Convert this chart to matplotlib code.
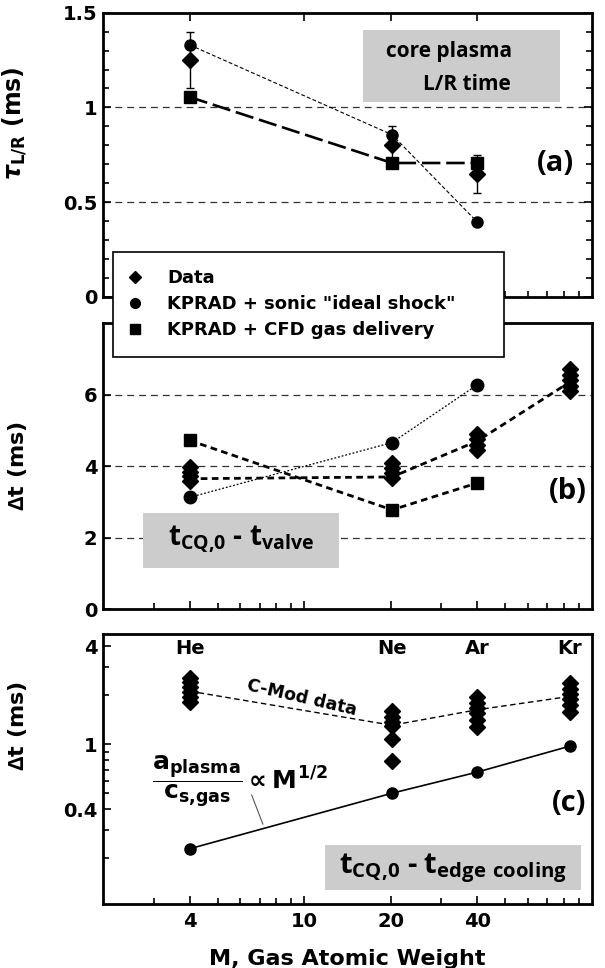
import numpy as np
import matplotlib
matplotlib.use('Agg')
import matplotlib.pyplot as plt
from matplotlib.lines import Line2D
from matplotlib.patches import Rectangle

# atomic weights of the injected gases
gases = ['He', 'Ne', 'Ar', 'Kr']
masses = [4.0, 20.2, 39.9, 83.8]

# (a) core plasma L/R time (ms), He, Ne, Ar
tau_data = [1.25, 0.80, 0.65]
tau_err_lo = [1.10, 0.72, 0.55]
tau_err_hi = [1.40, 0.90, 0.75]
tau_shock = [1.33, 0.856, 0.396]
tau_cfd = [1.055, 0.707, 0.707]

# (b) t_CQ,0 - t_valve (ms)
valve_data = [[3.98, 3.85, 3.72, 3.58],
              [4.08, 3.95, 3.82, 3.68],
              [4.90, 4.75, 4.60, 4.45],
              [6.70, 6.55, 6.40, 6.25, 6.10]]
valve_mean = [3.65, 3.70, 4.70, 6.35]
valve_shock = [3.13, 4.66, 6.27]
valve_cfd = [4.72, 2.78, 3.53]

# (c) t_CQ,0 - t_edge cooling (ms)
edge_data = [[2.55, 2.40, 2.25, 2.10, 1.95, 1.82],
             [1.60, 1.48, 1.38, 1.30, 1.08, 0.79],
             [1.95, 1.80, 1.67, 1.55, 1.42, 1.28],
             [2.37, 2.20, 2.05, 1.90, 1.75, 1.57]]
edge_mean = [2.12, 1.31, 1.63, 1.97]
edge_sonic = [0.229, 0.502, 0.676, 0.976]

plt.rcParams['font.family'] = ['DejaVu Sans']
plt.rcParams['font.weight'] = 'bold'
plt.rcParams['mathtext.fontset'] = 'custom'
plt.rcParams['mathtext.rm'] = 'Open Sans:bold'
plt.rcParams['mathtext.bf'] = 'Open Sans:bold'
plt.rcParams['mathtext.it'] = 'Open Sans:bold'

BOX = '#cccccc'
GRID = dict(color='#333333', lw=0.9, dashes=(5.5, 4), zorder=1)
BOXFONT = dict(family='Open Sans', weight='bold')

fig = plt.figure(figsize=(6.05, 9.68), dpi=100)
axa = fig.add_axes([0.1702, 0.6932, 0.8083, 0.2937])
axb = fig.add_axes([0.1702, 0.3704, 0.8083, 0.2960])
axc = fig.add_axes([0.1702, 0.0661, 0.8083, 0.2789])

minor_x = [3, 5, 6, 7, 8, 9, 30, 50, 60, 70, 80, 90]
for ax in (axa, axb, axc):
    ax.set_xscale('log')
    ax.set_xlim(2, 100)
    ax.set_xticks([4, 10, 20, 40])
    ax.set_xticks(minor_x, minor=True)
    for s in ax.spines.values():
        s.set_linewidth(2)
    ax.tick_params(which='both', direction='in', width=1.2, labelsize=14, pad=4)
    ax.tick_params(which='major', length=6)
    ax.tick_params(which='minor', length=4)
    ax.tick_params(axis='x', top=True)

axa.tick_params(axis='x', labelbottom=False)
axb.tick_params(axis='x', labelbottom=False)
axc.tick_params(axis='x', top=False, pad=6)
axc.set_xticklabels(['4', '10', '20', '40'])

# ---- (a)
axa.set_ylim(0, 1.5)
axa.set_yticks([0, 0.5, 1, 1.5])
axa.set_yticklabels(['0', '0.5', '1', '1.5'])
axa.set_yticks(np.arange(0.1, 1.5, 0.1), minor=True)
axa.tick_params(axis='y', which='both', right=True)
for v in (0.5, 1.0):
    axa.axhline(v, **GRID)
axa.plot(masses[:3], tau_shock, color='k', lw=0.8, dashes=(3.5, 2), zorder=2)
axa.plot(masses[:3], tau_cfd, color='k', lw=1.9, dashes=(7, 2.2), zorder=2)
yerr = [np.array(tau_data) - np.array(tau_err_lo), np.array(tau_err_hi) - np.array(tau_data)]
axa.errorbar(masses[:3], tau_data, yerr=yerr, fmt='none', ecolor='k', elinewidth=1,
             capsize=3, capthick=1, zorder=3)
axa.plot(masses[:3], tau_data, 'D', color='k', ms=8, ls='none', zorder=4)
axa.plot(masses[:3], tau_shock, 'o', color='k', ms=8, ls='none', zorder=4)
axa.plot(masses[:3], tau_cfd, 's', color='k', ms=8, ls='none', zorder=4)
axa.set_ylabel(r'$\tau_{\mathbf{L/R}}$ (ms)', fontsize=17, fontweight='bold',
               math_fontfamily='dejavusans')
axa.yaxis.set_label_coords(-0.151, 0.61)
axa.add_patch(Rectangle((0.532, 0.686), 0.403, 0.253, transform=axa.transAxes,
                        fc=BOX, ec='none', zorder=5))
axa.text(0.708, 0.862, 'core plasma', transform=axa.transAxes, ha='center', va='center',
         fontsize=15, zorder=6, **BOXFONT)
axa.text(0.744, 0.746, 'L/R time', transform=axa.transAxes, ha='center', va='center',
         fontsize=15, zorder=6, **BOXFONT)
axa.text(0.926, 0.471, '(a)', transform=axa.transAxes, ha='center', va='center',
         fontsize=21, **BOXFONT)

# ---- (b)
axb.set_ylim(0, 8)
axb.set_yticks([0, 2, 4, 6])
for v in (2, 4, 6):
    axb.axhline(v, **GRID)
axb.plot(masses[:3], valve_shock, color='k', lw=0.9, dashes=(1.5, 1.5), zorder=2)
axb.plot(masses[:3], valve_cfd, color='k', lw=2, dashes=(2.4, 1.6), zorder=2)
axb.plot(masses, valve_mean, color='k', lw=2, dashes=(2.4, 1.6), zorder=2)
for m, vals in zip(masses, valve_data):
    axb.plot([m] * len(vals), vals, 'D', color='k', ms=8, ls='none', zorder=4)
axb.plot(masses[:3], valve_shock, 'o', color='k', ms=9, ls='none', zorder=4)
axb.plot(masses[:3], valve_cfd, 's', color='k', ms=8, ls='none', zorder=4)
axb.set_ylabel(r'$\Delta$t (ms)', fontsize=16, fontweight='bold')
axb.yaxis.set_label_coords(-0.151, 0.5)
axb.add_patch(Rectangle((0.081, 0.145), 0.402, 0.192, transform=axb.transAxes,
                        fc=BOX, ec='none', zorder=5))
axb.text(0.282, 0.243, r'$\mathrm{t_{CQ{,}0}}$ - $\mathrm{t_{valve}}$', transform=axb.transAxes,
         ha='center', va='center', fontsize=20, zorder=6, **BOXFONT)
axb.text(0.951, 0.41, '(b)', transform=axb.transAxes, ha='center', va='center',
         fontsize=21, **BOXFONT)

# ---- (c)
axc.set_yscale('log')
axc.set_ylim(0.105, 4.75)
axc.set_yticks([0.4, 1, 4])
axc.set_yticklabels(['0.4', '1', '4'])
axc.set_yticks([0.2, 0.3, 0.5, 0.6, 0.7, 0.8, 0.9, 2, 3], minor=True)
axc.yaxis.set_minor_formatter(matplotlib.ticker.NullFormatter())
axc.plot(masses, edge_mean, color='k', lw=1, dashes=(4, 2.5), zorder=2)
axc.plot(masses, edge_sonic, color='k', lw=1.2, zorder=2)
for m, vals in zip(masses, edge_data):
    axc.plot([m] * len(vals), vals, 'D', color='k', ms=8, ls='none', zorder=4)
axc.plot(masses, edge_sonic, 'o', color='k', ms=8, ls='none', zorder=4)
for g, m in zip(gases, masses):
    axc.text(m, 0.948, g, transform=axc.get_xaxis_transform(), ha='center', va='center',
             fontsize=14, fontweight='bold')
axc.text(0.407, 0.763, 'C-Mod data', transform=axc.transAxes, ha='center', va='center',
         rotation=-13, fontsize=12.5, fontweight='bold')
axc.text(0.1, 0.452,
         r'$\dfrac{\mathbf{a}_{\mathbf{plasma}}}{\mathbf{c}_{\mathbf{s{,}gas}}}\propto\mathbf{M}^{\mathbf{1/2}}$',
         transform=axc.transAxes, ha='left', va='center', fontsize=18,
         math_fontfamily='dejavusans')
axc.plot([0.304, 0.327], [0.404, 0.296], transform=axc.transAxes, color='#555555', lw=0.8)
axc.add_patch(Rectangle((0.455, 0.052), 0.523, 0.1665, transform=axc.transAxes,
                        fc=BOX, ec='none', zorder=5))
axc.text(0.716, 0.133, r'$\mathrm{t_{CQ{,}0}}$ - $\mathrm{t_{edge\ cooling}}$', transform=axc.transAxes,
         ha='center', va='center', fontsize=21, zorder=6, **BOXFONT)
axc.text(0.953, 0.374, '(c)', transform=axc.transAxes, ha='center', va='center',
         fontsize=21, **BOXFONT)
axc.set_ylabel(r'$\Delta$t (ms)', fontsize=16, fontweight='bold')
axc.yaxis.set_label_coords(-0.151, 0.66)
axc.set_xlabel('M, Gas Atomic Weight', fontsize=16, fontweight='bold')
axc.xaxis.set_label_coords(0.5, -0.167)

# legend box spanning panels (a) and (b)
fig.patches.append(Rectangle((113 / 605, 1 - 357 / 968), 391 / 605, 105 / 968,
                             transform=fig.transFigure, fc='white', ec='black',
                             lw=1.2, zorder=4))
handles = [Line2D([], [], marker='D', ls='none', color='k', ms=6.5),
           Line2D([], [], marker='o', ls='none', color='k', ms=7),
           Line2D([], [], marker='s', ls='none', color='k', ms=7)]
labels = ['Data', 'KPRAD + sonic "ideal shock"', 'KPRAD + CFD gas delivery']
fig.legend(handles, labels, loc='upper left', bbox_to_anchor=(113 / 605, 1 - 262 / 968),
           frameon=False, borderaxespad=0, borderpad=0.4, handlelength=1.6,
           handletextpad=1.0, labelspacing=0.45, prop=dict(size=13, weight='bold'))

fig.savefig('out.png', dpi=100)
